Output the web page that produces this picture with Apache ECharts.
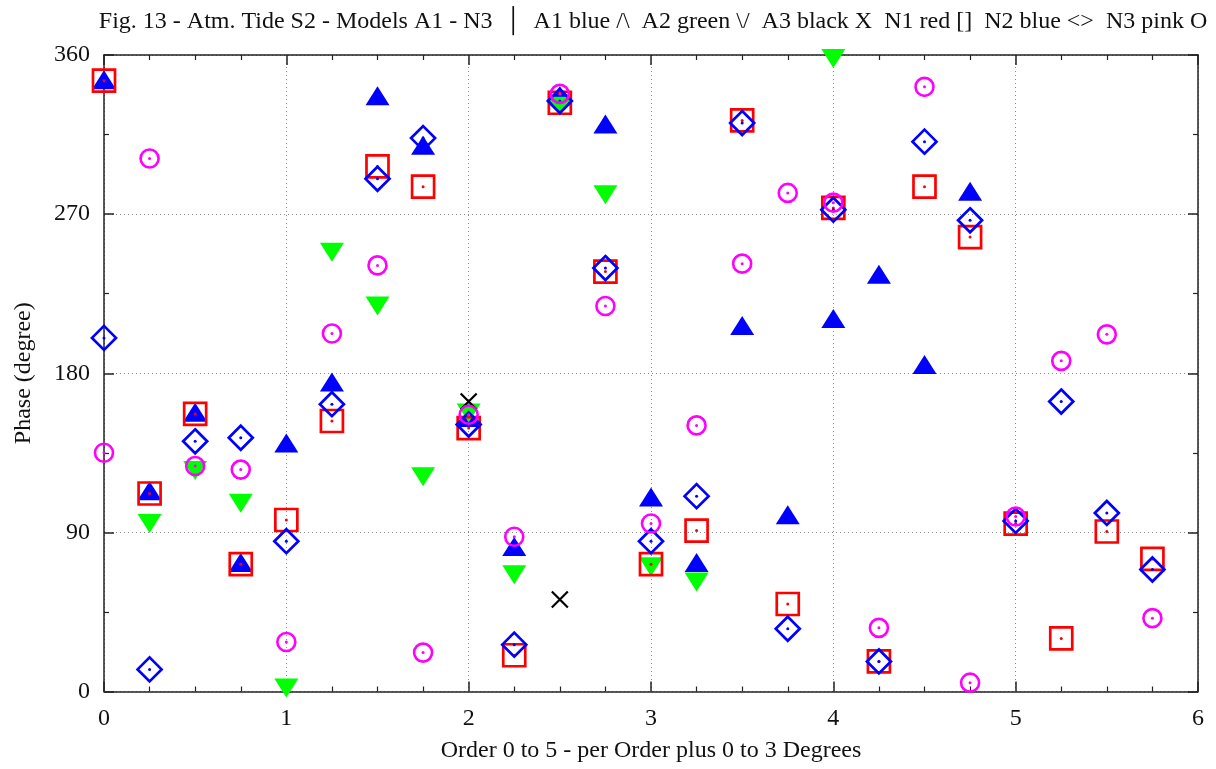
<!DOCTYPE html>
<html>
<head>
<meta charset="utf-8">
<script src="https://cdn.jsdelivr.net/npm/echarts@6/dist/echarts.min.js"></script>
<style>
  html, body { margin: 0; padding: 0; background: #fff; }
  #chart { width: 1216px; height: 769px; }
</style>
</head>
<body>
<div id="chart"></div>
<script>
// Phase (degree) per order position, one list of [position, phase] pairs per model
const a1 = [[0,346],[0.25,113.5],[0.5,158],[0.75,73],[1,140.5],[1.25,175],[1.5,337],[1.75,309],[2,155],[2.25,82],[2.5,337],[2.75,321],[3,110],[3.25,73],[3.5,207],[3.75,100],[4,211],[4.25,236],[4.5,185],[4.75,283]];
const a2 = [[0.25,95],[0.5,125],[0.75,106.5],[1,2],[1.25,248.5],[1.5,218],[1.75,121.5],[2,157.5],[2.25,66],[2.5,331],[2.75,281],[3,70.5],[3.25,62],[4,358]];
const a3 = [[2,164],[2.5,52]];
const n1 = [[0,345.5],[0.25,112],[0.5,157],[0.75,72],[1,97],[1.25,153],[1.5,297],[1.75,285.5],[2,149],[2.25,20.5],[2.5,333],[2.75,237.5],[3,72],[3.25,91],[3.5,323],[3.75,49.5],[4,273.5],[4.25,17],[4.5,285.5],[4.75,257],[5,95],[5.25,30],[5.5,90.5],[5.75,75]];
const n2 = [[0,200],[0.25,12.5],[0.5,141.5],[0.75,143.5],[1,85],[1.25,162.5],[1.5,290],[1.75,313],[2,151],[2.25,26.5],[2.5,334],[2.75,239.5],[3,85],[3.25,110.5],[3.5,321.5],[3.75,35.5],[4,272.5],[4.25,17],[4.5,311],[4.75,266.5],[5,96.5],[5.25,164],[5.5,101],[5.75,69]];
const n3 = [[0,135],[0.25,301.5],[0.5,127.5],[0.75,125.5],[1,28],[1.25,202.5],[1.5,241],[1.75,22],[2,156.5],[2.25,87.5],[2.5,338],[2.75,218],[3,95],[3.25,150.5],[3.5,242],[3.75,282],[4,276.5],[4.25,36],[4.5,342],[4.75,5],[5,99],[5.25,187],[5.5,202],[5.75,41.5]];

const titleText = 'Fig. 13 - Atm. Tide S2 - Models A1 - N3  \u2502  A1 blue /\\  A2 green \\/  A3 black X  N1 red []  N2 blue <>  N3 pink O';
const xName = 'Order 0 to 5 - per Order plus 0 to 3 Degrees';
const yName = 'Phase (degree)';

const FONT = '"Liberation Serif", "DejaVu Serif", serif';
const FS = 24;
const frame = { show: true, onZero: false, lineStyle: { color: '#222', width: 1.5 } };

function xAxisDef(pos, labels) {
  return {
    type: 'value', position: pos, min: 0, max: 6, interval: 1,
    axisLine: frame,
    axisTick: { show: true, inside: true, length: 10, lineStyle: { color: '#222', width: 1.5 } },
    minorTick: { show: true, splitNumber: 4, length: 5, lineStyle: { color: '#222', width: 1.2 } },
    axisLabel: { show: labels, margin: 15, color: '#111', fontFamily: FONT, fontSize: FS },
    splitLine: { show: labels, lineStyle: { color: '#888', type: [1, 3], width: 1 } },
    name: labels ? xName : '', nameLocation: 'middle', nameGap: 47,
    nameTextStyle: { color: '#111', fontFamily: FONT, fontSize: FS }
  };
}
function yAxisDef(pos, labels) {
  return {
    type: 'value', position: pos, min: 0, max: 360, interval: 90,
    axisLine: frame,
    axisTick: { show: true, inside: true, length: 10, lineStyle: { color: '#222', width: 1.5 } },
    minorTick: { show: true, splitNumber: 2, length: 5, lineStyle: { color: '#222', width: 1.2 } },
    axisLabel: { show: labels, margin: 14, color: '#111', fontFamily: FONT, fontSize: FS },
    splitLine: { show: labels, lineStyle: { color: '#888', type: [1, 3], width: 1 } },
    name: labels ? yName : '', nameLocation: 'middle', nameGap: 68, nameRotate: 90,
    nameTextStyle: { color: '#111', fontFamily: FONT, fontSize: FS }
  };
}

function marks(name, data, symbol, size, fill, stroke, rotate, bw) {
  return {
    name: name, type: 'scatter', data: data, symbol: symbol, symbolSize: size,
    symbolRotate: rotate || 0, clip: false, silent: true,
    itemStyle: { color: fill, borderColor: stroke, borderWidth: stroke === 'none' ? 0 : (bw || 2.7), opacity: 1 }
  };
}
function dots(name, data, color) {
  return {
    name: name, type: 'scatter', data: data, symbol: 'circle', symbolSize: 3,
    clip: false, silent: true, itemStyle: { color: color, opacity: 1 }
  };
}

const chart = echarts.init(document.getElementById('chart'), null, { renderer: 'canvas' });
chart.setOption({
  backgroundColor: '#fff',
  animation: false,
  title: {
    text: titleText, left: 648, top: 5, textAlign: 'center',
    textStyle: { fontFamily: FONT, fontSize: FS, fontWeight: 'normal', color: '#111' }
  },
  grid: { left: 104, right: 18, top: 55, bottom: 77.5 },
  xAxis: [xAxisDef('bottom', true), xAxisDef('top', false)],
  yAxis: [yAxisDef('left', true), yAxisDef('right', false)],
  series: [
    marks('A1', a1, 'triangle', [24, 19], '#0000ff', 'none'),
    marks('A2', a2, 'triangle', [24, 19], '#00ff00', 'none', 180),
    marks('A3', a3, 'path://M0,0L10,10M10,0L0,10', [16, 16], 'none', '#000', 0, 2.2),
    marks('N1', n1, 'rect', [22, 22], 'none', '#ff0000'),
    dots('N1', n1, '#ff0000'),
    marks('N2', n2, 'diamond', [24, 24], 'none', '#0000ff'),
    dots('N2', n2, '#0000ff'),
    marks('N3', n3, 'circle', [18, 18], 'none', '#ff00ff', 0, 2.6),
    dots('N3', n3, '#ff00ff')
  ]
});
</script>
</body>
</html>
